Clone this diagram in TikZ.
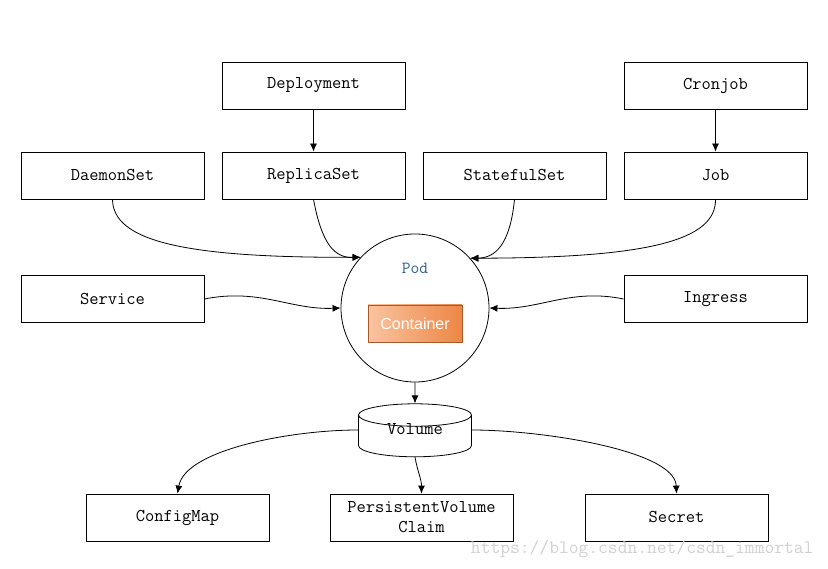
\documentclass[tikz,border=0pt]{standalone}
\usepackage{fontspec}
\usepackage{tikz}
\usetikzlibrary{shapes.geometric, arrows.meta}
\newfontfamily\contfont{Liberation Sans}
\definecolor{podblue}{HTML}{2B5F8E}
\definecolor{contlight}{HTML}{F9C4A0}
\definecolor{contdark}{HTML}{EE8645}
\definecolor{contedge}{HTML}{A85A28}
\tikzset{node distance=201pt, auto, >={Latex[length=8pt, width=7pt]},
         box/.style={draw, line width=0.8pt, minimum width=183pt, minimum height=47pt,
                     font=\ttfamily\fontsize{18}{20}\selectfont},
         link/.style={->, line width=0.8pt}}

\begin{document}
\begin{tikzpicture}[x=1pt, y=1pt]
                \useasboundingbox[fill=white] (0,0) rectangle (828,-569);
                \node[box] (daemonset)   at (112.5,-175.5) {DaemonSet};
                \node[box] (replicaset)  [right of=daemonset]  {ReplicaSet};
                \node[box] (statefulset) [right of=replicaset] {StatefulSet};
                \node[box] (job)         [right of=statefulset] {Job};
                \node[box] (deployment)  [above of=replicaset, node distance=90pt] {Deployment};
                \node[box] (cronjob)     [above of=job, node distance=90pt] {Cronjob};
                \node[box] (service)     at (112.5,-299) {Service};
                \node[box] (ingress)     [right of=service, node distance=603pt] {Ingress};
                \node[draw, circle, line width=0.8pt, minimum size=148pt] (pod) at (415,-308) {};
                \node[text=podblue, font=\ttfamily\fontsize{17}{19}\selectfont] (podlabel) at (415,-268) {Pod};
                \node[draw=contedge, left color=contlight, right color=contdark, text=white,
                      minimum width=94pt, minimum height=37pt, font=\contfont\fontsize{16}{19}\selectfont]
                      (container) at (415,-323.5) {Container};
                \node[draw, fill=white, line width=0.8pt, cylinder, shape border rotate=90, aspect=0.36,
                      minimum width=113pt, minimum height=53pt, font=\ttfamily\fontsize{18}{20}\selectfont]
                      (volume) at (415,-438) {\phantom{Volume}};
                \node[font=\ttfamily\fontsize{18}{20}\selectfont] (volumelabel) at (415,-429) {Volume};
                \node[box] (configmap)   at (177.5,-517.5) {ConfigMap};
                \node[box, align=center, inner sep=1pt] (pvc) [right of=configmap, node distance=244pt]
                      {PersistentVolume\\Claim};
                \node[box] (secret)      [right of=pvc, node distance=255pt] {Secret};
                \node[text=black!18, font=\ttfamily\fontsize{19}{21}\selectfont, anchor=east]
                      (watermark) at (817,-549) {https://blog.csdn.net/csdn\_immortal};
                \draw[link] (deployment) to (replicaset);
                \draw[link] (cronjob) to (job);
                \draw[link] (daemonset.south) .. controls (113,-240) and (180,-258) .. (pod.137);
                \draw[link] (replicaset.south) .. controls (322,-245) and (335,-258) .. (pod.137);
                \draw[link] (statefulset.south) .. controls (510,-245) and (495,-258) .. (pod.42);
                \draw[link] (job.south) .. controls (716,-240) and (650,-258) .. (pod.42);
                \draw[link] (service.east) .. controls (260,-288) and (290,-310) .. (pod.west);
                \draw[link] (ingress.west) .. controls (570,-288) and (540,-310) .. (pod.east);
                \draw[link] (pod.south) to (volume.north);
                \draw[link] ([yshift=8pt]volume.west) .. controls (290,-430) and (185,-450) .. (configmap.north);
                \draw[link] ([yshift=8pt]volume.east) .. controls (540,-430) and (675,-450) .. (secret.north);
                \draw[link] (volume.south) to[out=-80, in=90] (pvc.north);
              \end{tikzpicture}
\end{document}
